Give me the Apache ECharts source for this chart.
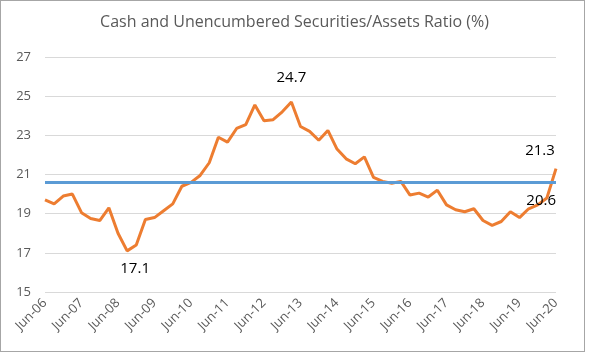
<!DOCTYPE html>
<html>
<head>
<meta charset="utf-8">
<script src="https://cdn.jsdelivr.net/npm/echarts@6/dist/echarts.min.js"></script>
<style>
  html, body { margin: 0; padding: 0; background: #fff; }
  #box { position: absolute; left: 0; top: 0; width: 583px; height: 350px; border: 1px solid #a6a6a6; }
  #chart { width: 589px; height: 354px; position: absolute; left: 0; top: 0; }
</style>
</head>
<body>
<div id="box"></div>
<div id="chart"></div>
<script>
// quarterly categories, Jun-06 .. Jun-20
const quarters = [
  'Jun-06', 'Sep-06', 'Dec-06', 'Mar-07', 'Jun-07', 'Sep-07', 'Dec-07', 'Mar-08',
  'Jun-08', 'Sep-08', 'Dec-08', 'Mar-09', 'Jun-09', 'Sep-09', 'Dec-09', 'Mar-10',
  'Jun-10', 'Sep-10', 'Dec-10', 'Mar-11', 'Jun-11', 'Sep-11', 'Dec-11', 'Mar-12',
  'Jun-12', 'Sep-12', 'Dec-12', 'Mar-13', 'Jun-13', 'Sep-13', 'Dec-13', 'Mar-14',
  'Jun-14', 'Sep-14', 'Dec-14', 'Mar-15', 'Jun-15', 'Sep-15', 'Dec-15', 'Mar-16',
  'Jun-16', 'Sep-16', 'Dec-16', 'Mar-17', 'Jun-17', 'Sep-17', 'Dec-17', 'Mar-18',
  'Jun-18', 'Sep-18', 'Dec-18', 'Mar-19', 'Jun-19', 'Sep-19', 'Dec-19', 'Mar-20',
  'Jun-20'
]

// cash and unencumbered securities / assets, %
const ratio = [
  19.7, 19.5, 19.9, 20.0, 19.05, 18.75, 18.65, 19.3,
  18.0, 17.1, 17.4, 18.7, 18.8, 19.15, 19.5, 20.4,
  20.6, 20.95, 21.6, 22.9, 22.65, 23.35, 23.55, 24.55,
  23.75, 23.8, 24.2, 24.7, 23.45, 23.2, 22.75, 23.25,
  22.3, 21.8, 21.55, 21.9, 20.85, 20.65, 20.55, 20.65,
  19.95, 20.05, 19.85, 20.2, 19.45, 19.2, 19.1, 19.25,
  18.65, 18.4, 18.6, 19.1, 18.8, 19.25, 19.45, 19.8,
  21.3
]

const average = 20.6

// which points get a value label, and where
const pointLabels = {
  9: { position: 'bottom', distance: 10, offset: [8, 0] },
  27: { position: 'top', distance: 17, offset: [0, 0] },
  56: { position: 'top', distance: 10, offset: [-16, 0] }
}

const chart = echarts.init(document.getElementById('chart'))

const lineData = ratio.map((v, i) => {
  if (pointLabels[i]) {
    return {
      value: v,
      label: Object.assign({ show: true, color: '#000', fontSize: 15, fontFamily: 'Open Sans' }, pointLabels[i])
    }
  }
  return v
})

chart.setOption({
  animation: false,
  title: {
    text: 'Cash and Unencumbered Securities/Assets Ratio (%)',
    left: 'center',
    top: 9,
    textStyle: { color: '#595959', fontSize: 16, fontWeight: 'normal', fontFamily: 'Open Sans' }
  },
  grid: { left: 45, right: 33, top: 57, bottom: 62 },
  xAxis: {
    type: 'category',
    data: quarters,
    boundaryGap: false,
    axisLine: { show: false },
    axisTick: { show: false },
    axisLabel: {
      interval: 3,
      rotate: 45,
      color: '#595959',
      fontSize: 13,
      fontFamily: 'Open Sans',
      margin: 9
    }
  },
  yAxis: {
    type: 'value',
    min: 15,
    max: 27,
    interval: 2,
    axisLabel: { color: '#595959', fontSize: 13, fontFamily: 'Open Sans', margin: 14 },
    splitLine: { lineStyle: { color: '#d9d9d9', width: 1 } }
  },
  series: [
    {
      type: 'line',
      data: lineData,
      symbol: 'circle',
      symbolSize: 0,
      showSymbol: true,
      showAllSymbol: true,
      lineStyle: { color: '#ed7d31', width: 3 },
      itemStyle: { color: '#ed7d31' },
      markLine: {
        silent: true,
        symbol: 'none',
        lineStyle: { color: '#5b9bd5', width: 3, type: 'solid' },
        label: {
          position: 'insideEndBottom',
          formatter: '{c}',
          color: '#000',
          fontSize: 15,
          fontFamily: 'Open Sans',
          distance: [0, 11]
        },
        data: [{ yAxis: average }]
      },
      z: 3
    }
  ]
})
</script>
</body>
</html>
